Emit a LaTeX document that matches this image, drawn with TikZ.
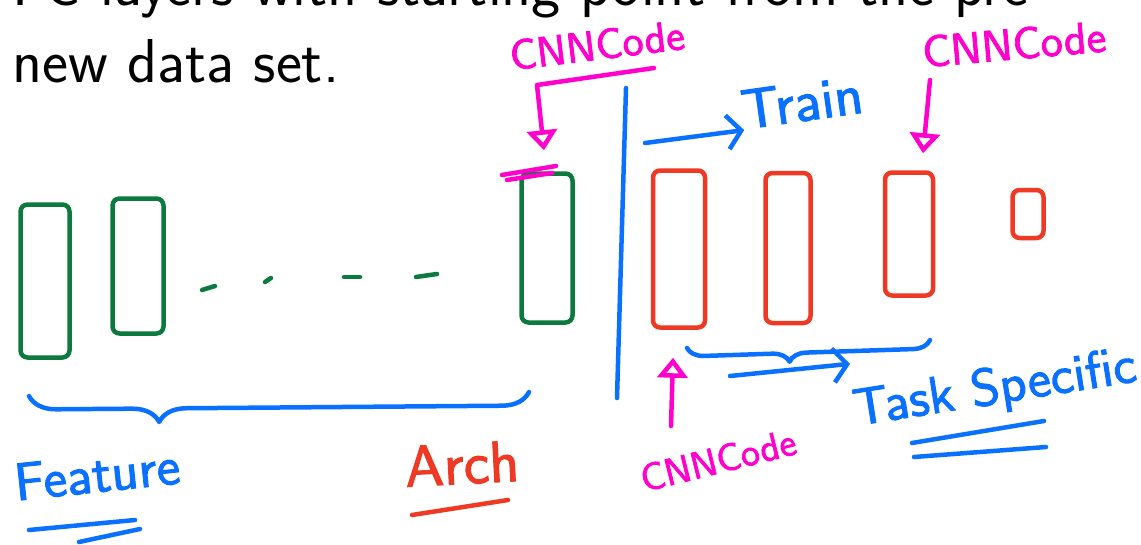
\documentclass[tikz,border=0pt]{standalone}
\usepackage{fontspec}
\newfontfamily\handfont[FakeBold=2]{lmsans10-regular.otf}
\usetikzlibrary{arrows.meta,decorations.pathreplacing}

\definecolor{inkgreen}{RGB}{12,122,62}
\definecolor{inkred}{RGB}{238,58,36}
\definecolor{inkblue}{RGB}{10,112,255}
\definecolor{inkpink}{RGB}{255,0,205}
\def\inkwidth{4.5pt}

\tikzset{
  pen/.style={line width=\inkwidth, line cap=round, line join=round},
  layer/.style={pen, draw, rounded corners=7pt, inner sep=0pt},
  slide/.style={inner sep=0pt, anchor=base west, font=\sffamily\fontsize{62}{62}\selectfont},
  scrawl/.style={inner sep=0pt, font=\handfont\fontsize{#1}{#1}\selectfont},
  pointer/.style={pen, draw=inkpink, -{Triangle[open, length=20pt, width=30pt]}},
  push/.style={pen, draw=inkblue, -{Straight Barb[length=14pt, width=34pt]}},
  curly/.style={pen, draw=inkblue, decorate, decoration={brace, mirror, #1}},
}

\begin{document}
\begin{tikzpicture}[x=1pt, y=-1pt]
  \useasboundingbox (0,0) rectangle (1141,544);
  \clip (0,0) rectangle (1141,544);

  % slide text
  \node[slide] (line1) at (12,5) {FC layers with starting point from the pre};
  \node[slide] (line2) at (12,82) {new data set.};

  % pretrained layers
  \node[layer, draw=inkgreen, minimum width=49pt, minimum height=153pt] (g1) at (45,281) {};
  \node[layer, draw=inkgreen, minimum width=51pt, minimum height=135pt] (g2) at (138,266) {};
  \node[layer, draw=inkgreen, minimum width=51pt, minimum height=149pt] (g3) at (547,248) {};
  \foreach \xa/\ya/\xb/\yb in {202/290/215/286, 265/282/271/278, 344/277/360/277, 416/277/437/274}
    \draw[pen, draw=inkgreen] (\xa,\ya) -- (\xb,\yb);
  \draw[pen, draw=inkpink] (502,175) -- (556,166) (507,180) -- (552,173);

  % new layers
  \node[layer, draw=inkred, minimum width=52pt, minimum height=157pt] (r1) at (679,249) {};
  \node[layer, draw=inkred, minimum width=45pt, minimum height=150pt] (r2) at (788,248) {};
  \node[layer, draw=inkred, minimum width=48pt, minimum height=123pt] (r3) at (909,234) {};
  \node[layer, draw=inkred, minimum width=31pt, minimum height=48pt] (r4) at (1028,214) {};

  \draw[pen, draw=inkblue] (626,88) -- (617,398);

  % braces and labels
  \draw[curly={amplitude=27pt, aspect=0.26}] (29,396) -- (529,392);
  \draw[curly={amplitude=17pt, aspect=0.42}] (687,348) -- (930,340);

  \node[scrawl=53, text=inkblue, rotate=6] (feat) at (97,474) {Feature};
  \draw[pen, draw=inkblue] (29,530) -- (135,520) (79,542) -- (140,529);
  \node[scrawl=58, text=inkred, rotate=3] (arch) at (462,464) {Arch};
  \draw[pen, draw=inkred] (412,515) -- (508,500);

  \node[scrawl=42, text=inkpink, rotate=7] (cnnA) at (597,45) {CNNCode};
  \node[scrawl=44, text=inkpink, rotate=5] (cnnB) at (1014,44) {CNNCode};
  \node[scrawl=38, text=inkpink, rotate=14] (cnnC) at (718,460) {CNNCode};
  \node[scrawl=56, text=inkblue, rotate=8] (train) at (802,102) {Train};
  \node[scrawl=52, text=inkblue, rotate=9] (task) at (995,390) {Task Specific};
  \draw[pen, draw=inkblue] (912,443) -- (1044,421) (914,457) -- (1046,447);

  % arrows
  \coordinate (tailA) at (654,68);
  \coordinate (kinkA) at (537,85);
  \draw[pointer] (tailA) -- (kinkA) -- ([xshift=-3pt, yshift=21pt]g3.north);
  \coordinate (tailB) at (930,80);
  \draw[pointer] (tailB) -- ([xshift=14pt, yshift=17pt]r3.north);
  \coordinate (tailC) at (671,426);
  \draw[pointer] (tailC) -- ([xshift=-6pt, yshift=-28pt]r1.south);

  \coordinate (tailT) at (645,143);
  \draw[push] (tailT) -- (train.south west);
  \coordinate (tailS) at (730,376);
  \draw[push] (tailS) -- ([yshift=25pt]task.north west);

\end{tikzpicture}
\end{document}
